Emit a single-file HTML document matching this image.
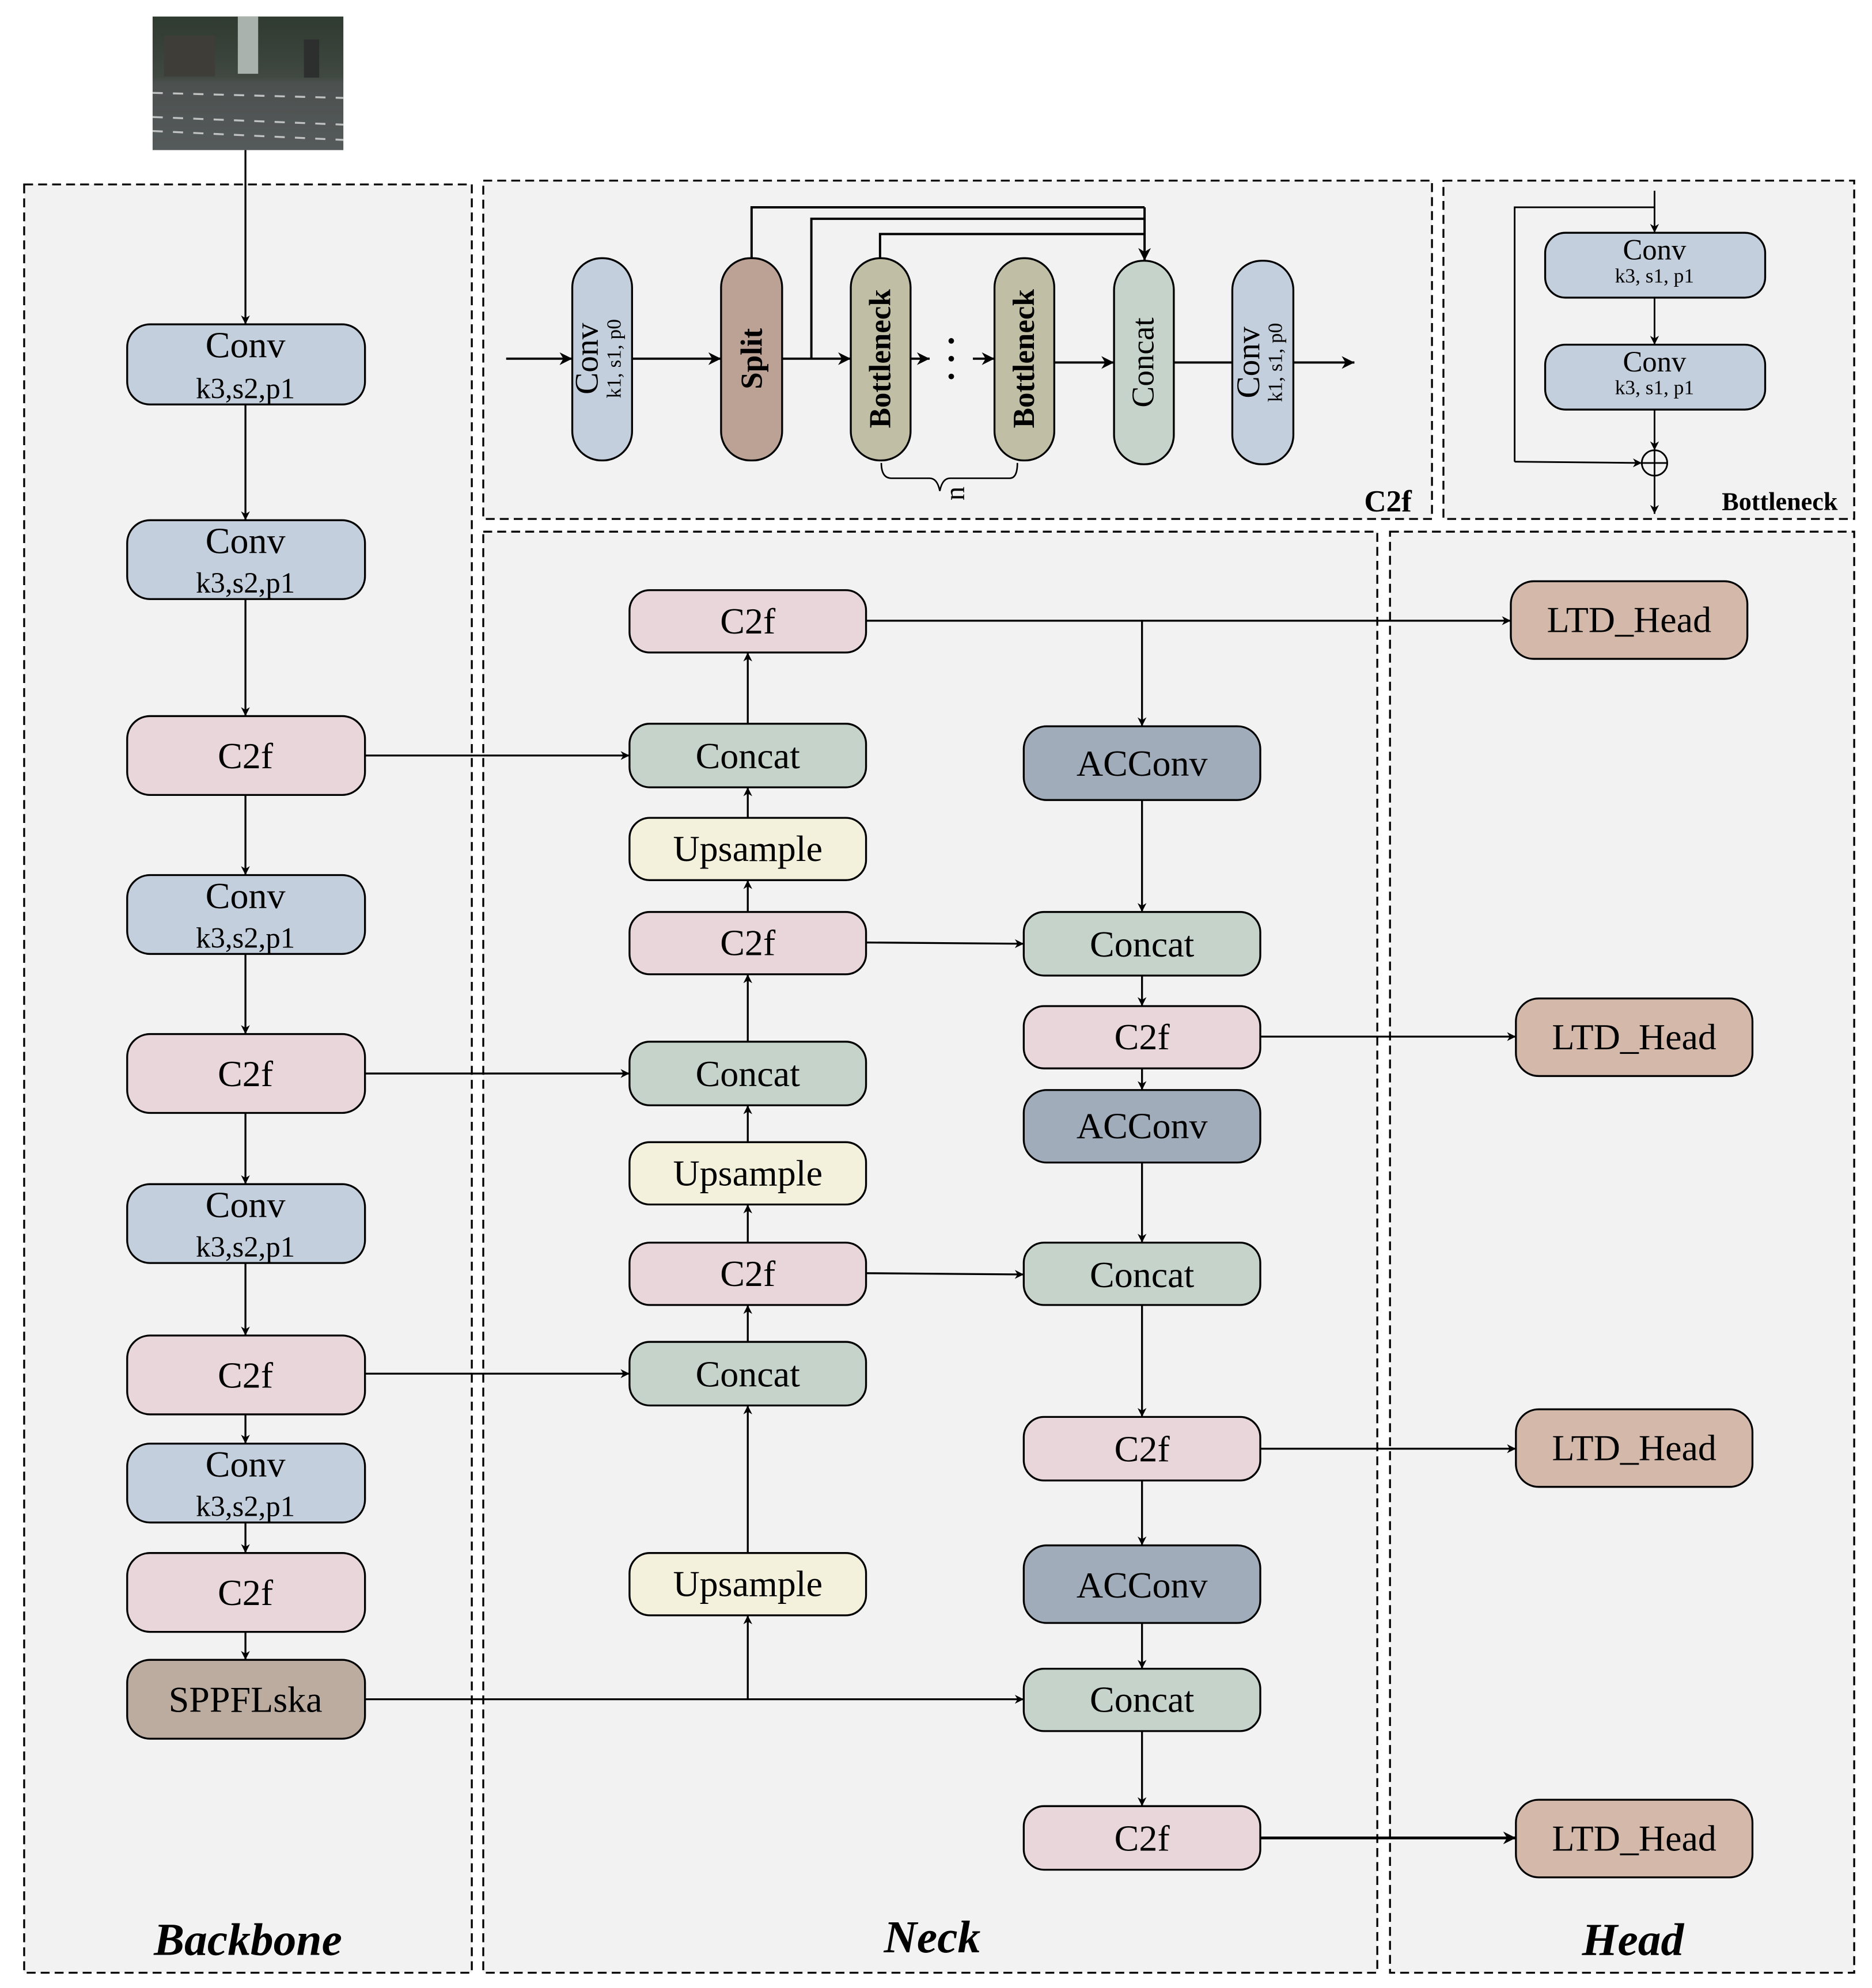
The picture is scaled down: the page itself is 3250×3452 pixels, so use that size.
<!DOCTYPE html>
<html><head><meta charset="utf-8"><style>
html,body{margin:0;padding:0;background:#fff;}
svg{display:block;}
text{font-family:"Liberation Serif",serif;fill:#000;}
</style></head><body>
<svg width="3250" height="3452" viewBox="0 0 1472 1563" preserveAspectRatio="none" xmlns="http://www.w3.org/2000/svg">
<defs>
<marker id="a" viewBox="0 0 10 10" refX="10" refY="5" markerWidth="7" markerHeight="7" markerUnits="userSpaceOnUse" orient="auto"><path d="M0,0 L10,5 L0,10 L3,5 z" fill="#000"/></marker>
<marker id="b" viewBox="0 0 10 10" refX="10" refY="5" markerWidth="10" markerHeight="10" markerUnits="userSpaceOnUse" orient="auto"><path d="M0,0 L10,5 L0,10 L3,5 z" fill="#000"/></marker>
<linearGradient id="sky" x1="0" y1="0" x2="0" y2="1">
<stop offset="0" stop-color="#2f3a30"/><stop offset="0.45" stop-color="#404841"/><stop offset="0.5" stop-color="#4c5150"/><stop offset="1" stop-color="#555a5a"/></linearGradient>
</defs>
<rect width="1472" height="1563" fill="#fff"/>
<!-- image -->
<rect x="120" y="13" width="150" height="105" fill="url(#sky)"/>
<rect x="187" y="13" width="16" height="45" fill="#a9b2ad"/>
<rect x="239" y="31" width="12" height="30" fill="#2c2f2e"/>
<rect x="129" y="28" width="40" height="32" fill="#3f3d38"/>
<g stroke="#bfc2c0" stroke-width="1.5">
<line x1="120" y1="73" x2="270" y2="77" stroke-dasharray="8 8"/>
<line x1="120" y1="92" x2="270" y2="98" stroke-dasharray="8 8"/>
<line x1="120" y1="103" x2="270" y2="110" stroke-dasharray="8 8"/>
</g>
<!-- panels -->
<g fill="#f2f2f2" stroke="#000" stroke-width="1.5" stroke-dasharray="7 4">
<rect x="19" y="145" width="352" height="1406"/>
<rect x="380" y="142" width="746" height="266"/>
<rect x="1135" y="142" width="323" height="266"/>
<rect x="380" y="418" width="703" height="1133"/>
<rect x="1093" y="418" width="365" height="1133"/>
</g>
<!-- connectors -->
<g stroke="#000" stroke-width="1.5" fill="none" marker-end="url(#a)">
<line x1="193" y1="118" x2="193" y2="255"/>
<line x1="193" y1="318" x2="193" y2="409"/>
<line x1="193" y1="471" x2="193" y2="563"/>
<line x1="193" y1="625" x2="193" y2="688"/>
<line x1="193" y1="750" x2="193" y2="813"/>
<line x1="193" y1="875" x2="193" y2="931"/>
<line x1="193" y1="993" x2="193" y2="1050"/>
<line x1="193" y1="1112" x2="193" y2="1135"/>
<line x1="193" y1="1197" x2="193" y2="1221"/>
<line x1="193" y1="1283" x2="193" y2="1305"/>
<line x1="287" y1="594" x2="495" y2="594"/>
<line x1="287" y1="844" x2="495" y2="844"/>
<line x1="287" y1="1080" x2="495" y2="1080"/>
<line x1="287" y1="1336" x2="805" y2="1336"/>
<line x1="588" y1="1336" x2="588" y2="1270"/>
<line x1="588" y1="1221" x2="588" y2="1105"/>
<line x1="588" y1="1055" x2="588" y2="1026"/>
<line x1="588" y1="977" x2="588" y2="947"/>
<line x1="588" y1="898" x2="588" y2="869"/>
<line x1="588" y1="819" x2="588" y2="766"/>
<line x1="588" y1="717" x2="588" y2="692"/>
<line x1="588" y1="643" x2="588" y2="619"/>
<line x1="588" y1="569" x2="588" y2="513"/>
<line x1="681" y1="488" x2="1188" y2="488"/>
<line x1="898" y1="488" x2="898" y2="571"/>
<line x1="898" y1="629" x2="898" y2="717"/>
<line x1="681" y1="741" x2="805" y2="742"/>
<line x1="898" y1="767" x2="898" y2="791"/>
<line x1="991" y1="815" x2="1192" y2="815"/>
<line x1="898" y1="840" x2="898" y2="857"/>
<line x1="898" y1="914" x2="898" y2="977"/>
<line x1="681" y1="1001" x2="805" y2="1002"/>
<line x1="898" y1="1026" x2="898" y2="1114"/>
<line x1="991" y1="1139" x2="1192" y2="1139"/>
<line x1="898" y1="1164" x2="898" y2="1215"/>
<line x1="898" y1="1276" x2="898" y2="1312"/>
<line x1="898" y1="1361" x2="898" y2="1420"/>
</g>
<line x1="991" y1="1445" x2="1192" y2="1445" stroke="#000" stroke-width="2.2" marker-end="url(#b)"/>
<!-- C2f panel connectors -->
<g stroke="#000" stroke-width="1.8" fill="none">
<line x1="398" y1="282" x2="450" y2="282" marker-end="url(#b)"/>
<line x1="497" y1="282" x2="567" y2="282" marker-end="url(#b)"/>
<line x1="615" y1="282" x2="669" y2="282" marker-end="url(#b)"/>
<line x1="716" y1="282" x2="731" y2="282" marker-end="url(#b)"/>
<line x1="765" y1="282" x2="782" y2="282" marker-end="url(#b)"/>
<line x1="829" y1="285" x2="876" y2="285" marker-end="url(#b)"/>
<line x1="923" y1="285" x2="969" y2="285"/>
<line x1="1017" y1="285" x2="1065" y2="285" marker-end="url(#b)"/>
<polyline points="591,203 591,163 900,163"/>
<polyline points="638,282 638,172 900,172"/>
<polyline points="692,203 692,184 900,184"/>
<line x1="900" y1="163" x2="900" y2="205" marker-end="url(#b)"/>
<path d="M693,364 q0,12 8,12 h30 q6,0 8,10 q2,-10 8,-10 h47 q6,0 6,-12" stroke-width="1.2"/>
</g>
<circle cx="748" cy="268" r="2.2"/><circle cx="748" cy="282" r="2.2"/><circle cx="748" cy="296" r="2.2"/>
<text transform="translate(758,388) rotate(-90)" font-size="22" text-anchor="middle">n</text>
<!-- bottleneck connectors -->
<g stroke="#000" stroke-width="1.3" fill="none">
<line x1="1301" y1="150" x2="1301" y2="183" marker-end="url(#a)"/>
<line x1="1301" y1="234" x2="1301" y2="271" marker-end="url(#a)"/>
<line x1="1301" y1="322" x2="1301" y2="354" marker-end="url(#a)"/>
<line x1="1301" y1="374" x2="1301" y2="404" marker-end="url(#a)"/>
<polyline points="1301,163 1191,163 1191,363"/>
<line x1="1191" y1="363" x2="1291" y2="364" marker-end="url(#a)"/>
<circle cx="1301" cy="364" r="10" fill="#f2f2f2"/>
<line x1="1291" y1="364" x2="1311" y2="364"/><line x1="1301" y1="354" x2="1301" y2="374"/>
</g>
<!-- nodes -->
<g stroke="#000" stroke-width="1.5">
<!-- backbone -->
<rect x="100" y="255" width="187" height="63" rx="18" fill="#c3cfdd"/>
<rect x="100" y="409" width="187" height="62" rx="18" fill="#c3cfdd"/>
<rect x="100" y="563" width="187" height="62" rx="18" fill="#e8d6da"/>
<rect x="100" y="688" width="187" height="62" rx="18" fill="#c3cfdd"/>
<rect x="100" y="813" width="187" height="62" rx="18" fill="#e8d6da"/>
<rect x="100" y="931" width="187" height="62" rx="18" fill="#c3cfdd"/>
<rect x="100" y="1050" width="187" height="62" rx="18" fill="#e8d6da"/>
<rect x="100" y="1135" width="187" height="62" rx="18" fill="#c3cfdd"/>
<rect x="100" y="1221" width="187" height="62" rx="18" fill="#e8d6da"/>
<rect x="100" y="1305" width="187" height="62" rx="18" fill="#bcaca0"/>
<!-- neck col1 -->
<rect x="495" y="464" width="186" height="49" rx="16" fill="#e8d6da"/>
<rect x="495" y="569" width="186" height="50" rx="16" fill="#c5d3cb"/>
<rect x="495" y="643" width="186" height="49" rx="16" fill="#f3f1dc"/>
<rect x="495" y="717" width="186" height="49" rx="16" fill="#e8d6da"/>
<rect x="495" y="819" width="186" height="50" rx="16" fill="#c5d3cb"/>
<rect x="495" y="898" width="186" height="49" rx="16" fill="#f3f1dc"/>
<rect x="495" y="977" width="186" height="49" rx="16" fill="#e8d6da"/>
<rect x="495" y="1055" width="186" height="50" rx="16" fill="#c5d3cb"/>
<rect x="495" y="1221" width="186" height="49" rx="16" fill="#f3f1dc"/>
<!-- neck col2 -->
<rect x="805" y="571" width="186" height="58" rx="18" fill="#a0acba"/>
<rect x="805" y="717" width="186" height="50" rx="16" fill="#c5d3cb"/>
<rect x="805" y="791" width="186" height="49" rx="16" fill="#e8d6da"/>
<rect x="805" y="857" width="186" height="57" rx="18" fill="#a0acba"/>
<rect x="805" y="977" width="186" height="49" rx="16" fill="#c5d3cb"/>
<rect x="805" y="1114" width="186" height="50" rx="16" fill="#e8d6da"/>
<rect x="805" y="1215" width="186" height="61" rx="18" fill="#a0acba"/>
<rect x="805" y="1312" width="186" height="49" rx="16" fill="#c5d3cb"/>
<rect x="805" y="1420" width="186" height="50" rx="16" fill="#e8d6da"/>
<!-- head -->
<rect x="1188" y="457" width="186" height="61" rx="18" fill="#d4b9ab"/>
<rect x="1192" y="785" width="186" height="61" rx="18" fill="#d4b9ab"/>
<rect x="1192" y="1108" width="186" height="61" rx="18" fill="#d4b9ab"/>
<rect x="1192" y="1415" width="186" height="61" rx="18" fill="#d4b9ab"/>
<!-- C2f panel -->
<rect x="450" y="203" width="47" height="159" rx="23" fill="#c3cfdd"/>
<rect x="567" y="203" width="48" height="159" rx="23" fill="#bca294"/>
<rect x="669" y="203" width="47" height="159" rx="23" fill="#c0bfa6"/>
<rect x="782" y="203" width="47" height="159" rx="23" fill="#c0bfa6"/>
<rect x="876" y="205" width="47" height="160" rx="23" fill="#c5d3cb"/>
<rect x="969" y="205" width="48" height="160" rx="23" fill="#c3cfdd"/>
<!-- bottleneck -->
<rect x="1215" y="183" width="173" height="51" rx="16" fill="#c3cfdd"/>
<rect x="1215" y="271" width="173" height="51" rx="16" fill="#c3cfdd"/>
</g>
<!-- labels -->
<g font-size="29" text-anchor="middle">
<text x="193" y="281">Conv</text><text x="193" y="313" font-size="23">k3,s2,p1</text>
<text x="193" y="435">Conv</text><text x="193" y="466" font-size="23">k3,s2,p1</text>
<text x="193" y="604">C2f</text>
<text x="193" y="714">Conv</text><text x="193" y="745" font-size="23">k3,s2,p1</text>
<text x="193" y="854">C2f</text>
<text x="193" y="957">Conv</text><text x="193" y="988" font-size="23">k3,s2,p1</text>
<text x="193" y="1091">C2f</text>
<text x="193" y="1161">Conv</text><text x="193" y="1192" font-size="23">k3,s2,p1</text>
<text x="193" y="1262">C2f</text>
<text x="193" y="1346">SPPFLska</text>
<text x="588" y="498">C2f</text>
<text x="588" y="604">Concat</text>
<text x="588" y="677">Upsample</text>
<text x="588" y="751">C2f</text>
<text x="588" y="854">Concat</text>
<text x="588" y="932">Upsample</text>
<text x="588" y="1011">C2f</text>
<text x="588" y="1090">Concat</text>
<text x="588" y="1255">Upsample</text>
<text x="898" y="610">ACConv</text>
<text x="898" y="752">Concat</text>
<text x="898" y="825">C2f</text>
<text x="898" y="895">ACConv</text>
<text x="898" y="1012">Concat</text>
<text x="898" y="1149">C2f</text>
<text x="898" y="1256">ACConv</text>
<text x="898" y="1346">Concat</text>
<text x="898" y="1455">C2f</text>
<text x="1281" y="497">LTD_Head</text>
<text x="1285" y="825">LTD_Head</text>
<text x="1285" y="1148">LTD_Head</text>
<text x="1285" y="1455">LTD_Head</text>
</g>
<!-- rotated C2f panel labels -->
<g text-anchor="middle">
<text transform="translate(470,282) rotate(-90)" font-size="26">Conv</text>
<text transform="translate(488,282) rotate(-90)" font-size="16">k1,  s1,  p0</text>
<text transform="translate(599,282) rotate(-90)" font-size="24" font-weight="bold">Split</text>
<text transform="translate(700,282) rotate(-90)" font-size="24" font-weight="bold">Bottleneck</text>
<text transform="translate(813,282) rotate(-90)" font-size="24" font-weight="bold">Bottleneck</text>
<text transform="translate(907,285) rotate(-90)" font-size="25">Concat</text>
<text transform="translate(990,285) rotate(-90)" font-size="26">Conv</text>
<text transform="translate(1008,285) rotate(-90)" font-size="16">k1,  s1,  p0</text>
<text x="1301" y="204" font-size="23">Conv</text><text x="1301" y="222" font-size="16">k3,  s1,  p1</text>
<text x="1301" y="292" font-size="23">Conv</text><text x="1301" y="310" font-size="16">k3,  s1,  p1</text>
</g>
<text x="1110" y="402" font-size="24" font-weight="bold" text-anchor="end">C2f</text>
<text x="1445" y="401" font-size="20" font-weight="bold" text-anchor="end">Bottleneck</text>
<g font-size="36" font-weight="bold" font-style="italic" text-anchor="middle">
<text x="195" y="1537">Backbone</text>
<text x="733" y="1535">Neck</text>
<text x="1284" y="1537">Head</text>
</g>
</svg>
</body></html>
